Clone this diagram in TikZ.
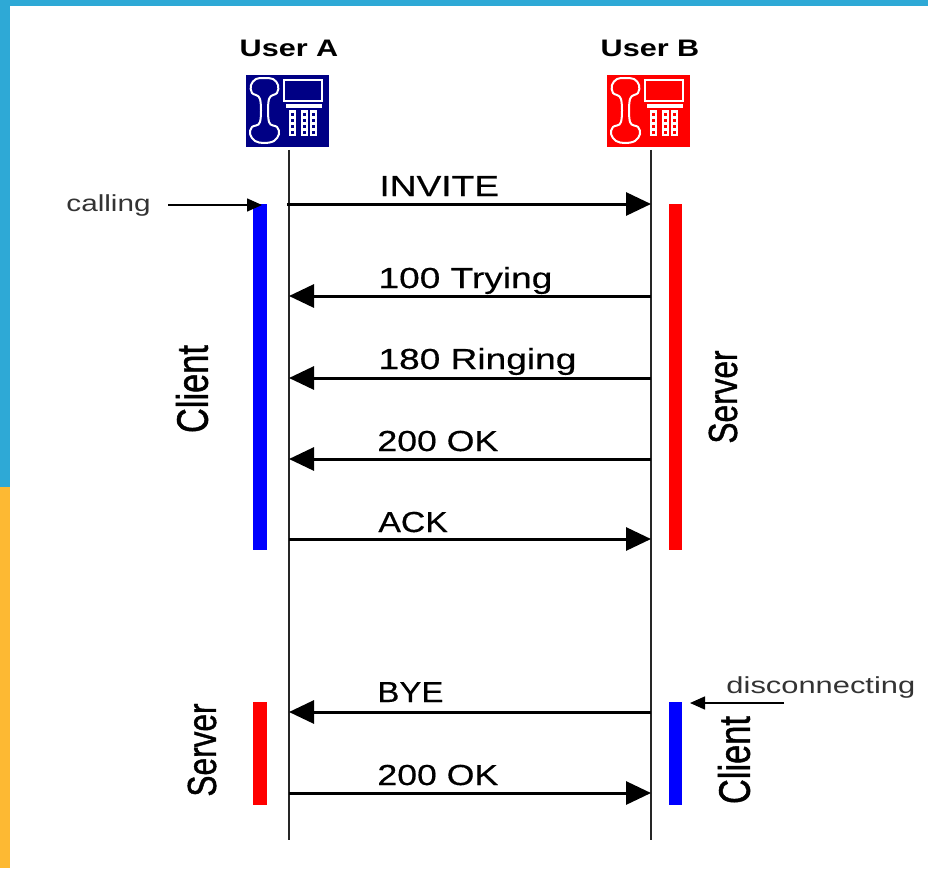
\documentclass[tikz,border=0pt]{standalone}
\usepackage{fontspec}
\setmainfont{Liberation Sans}
\newfontfamily\rolefont[FakeBold=1.2]{Liberation Sans}
\newfontfamily\msgfont[FakeBold=0.4]{Liberation Sans}
\usetikzlibrary{arrows.meta}
\definecolor{edgeblue}{HTML}{2EA9D6}
\definecolor{edgeorange}{HTML}{FDB933}
\definecolor{phonenavy}{HTML}{000085}
\definecolor{barblue}{HTML}{0000FF}
\definecolor{barred}{HTML}{FF0000}
\tikzset{
	stretched/.style={xscale=1.28,transform shape},
	msgtext/.style={stretched,anchor=base west,inner sep=0pt,font=\msgfont\fontsize{16.5}{20}\selectfont},
	usertext/.style={stretched,inner sep=0pt,font=\fontsize{13.6}{16}\selectfont\bfseries},
	notetext/.style={stretched,anchor=base west,inner sep=0pt,text=black!80,font=\fontsize{13.2}{16}\selectfont},
	roletext/.style={xscale=1.28,rotate=90,transform shape,inner sep=0pt,font=\rolefont\fontsize{18}{20}\selectfont},
	lifeline/.style={line width=0.045cm,black!85},
	msgarrow/.style={line width=0.06cm,-{Triangle[length=0.5cm,width=0.46cm]}},
	notearrow/.style={line width=0.03cm,-{Triangle[length=0.3cm,width=0.26cm]}}
}
\begin{document}
\begin{tikzpicture}[x=0.02cm,y=-0.02cm]
	\useasboundingbox (0,0) rectangle (928,868);
	\fill[edgeblue] (0,0) rectangle (928,6);
	\fill[edgeblue] (0,0) rectangle (10,487);
	\fill[edgeorange] (0,487) rectangle (10,868);

	\node[usertext] (userA) at (289,48) {User A};
	\node[usertext] (userB) at (650,48) {User B};

	\foreach \ox/\oc in {246/phonenavy,607/barred}{
		\begin{scope}[shift={(\ox,75)}]
			\fill[\oc] (0,0) rectangle (83,72);
			\draw[white,line width=0.04cm] plot[smooth cycle,tension=0.6] coordinates {(14,24) (6,18) (5,10) (10,4) (18,3) (27,4) (32,10) (31,18) (23,24) (23,47) (31,52) (33,59) (28,66) (18,68) (9,66) (4,59) (6,52) (14,47)};
			\draw[white,line width=0.04cm] (38,5) rectangle (76,26);
			\fill[white] (40,29) rectangle (76,33);
			\foreach \kx in {43,55,64}{
				\fill[white] (\kx,35) rectangle ++(7,26);
				\foreach \ky in {38,44,50,56}{
					\fill[\oc] (\kx+2,\ky) rectangle ++(3,3);
				}
			}
		\end{scope}
	}

	\coordinate (lineAtop) at (289,150);
	\coordinate (lineAend) at (289,840);
	\coordinate (lineBtop) at (651,150);
	\coordinate (lineBend) at (651,840);
	\draw[lifeline] (lineAtop) -- (lineAend);
	\draw[lifeline] (lineBtop) -- (lineBend);

	\fill[barblue] (253,204) rectangle (267,550);
	\fill[barred] (669,204) rectangle (682,550);
	\fill[barred] (253,702) rectangle (267,805);
	\fill[barblue] (669,702) rectangle (682,805);

	\coordinate (inviteA) at (287,204);
	\coordinate (inviteB) at (651,204);
	\coordinate (tryingA) at (289,296);
	\coordinate (tryingB) at (651,296);
	\coordinate (ringingA) at (289,378);
	\coordinate (ringingB) at (651,378);
	\coordinate (okA) at (289,459);
	\coordinate (okB) at (651,459);
	\coordinate (ackA) at (289,539);
	\coordinate (ackB) at (651,539);
	\coordinate (byeA) at (289,712);
	\coordinate (byeB) at (651,712);
	\coordinate (endokA) at (289,793);
	\coordinate (endokB) at (651,793);

	\draw[msgarrow] (inviteA) -- (inviteB);
	\draw[msgarrow] (tryingB) -- (tryingA);
	\draw[msgarrow] (ringingB) -- (ringingA);
	\draw[msgarrow] (okB) -- (okA);
	\draw[msgarrow] (ackA) -- (ackB);
	\draw[msgarrow] (byeB) -- (byeA);
	\draw[msgarrow] (endokA) -- (endokB);

	\node[msgtext] (inviteText) at (379,196) {INVITE};
	\node[msgtext] (tryingText) at (378,288) {100 Trying};
	\node[msgtext] (ringingText) at (378,369) {180 Ringing};
	\node[msgtext,xscale=0.96] (okText) at (377,451) {200 OK};
	\node[msgtext,xscale=0.91] (ackText) at (378,532) {ACK};
	\node[msgtext,xscale=0.89] (byeText) at (377,702) {BYE};
	\node[msgtext,xscale=0.96] (endokText) at (377,785) {200 OK};

	\node[notetext] (callingText) at (66,211) {calling};
	\node[notetext,xscale=1.04] (discText) at (726,693) {disconnecting};
	\coordinate (callingFrom) at (168,205);
	\coordinate (callingTo) at (262,205);
	\coordinate (discFrom) at (784,703);
	\coordinate (discTo) at (690,703);
	\draw[notearrow] (callingFrom) -- (callingTo);
	\draw[notearrow] (discFrom) -- (discTo);

	\node[roletext,font=\rolefont\fontsize{19.6}{20}\selectfont] (clientA) at (192,389) {Client};
	\node[roletext] (serverB) at (723,397) {Server};
	\node[roletext] (serverA) at (202,750) {Server};
	\node[roletext,font=\rolefont\fontsize{19.6}{20}\selectfont] (clientB) at (734,760) {Client};
\end{tikzpicture}
\end{document}
